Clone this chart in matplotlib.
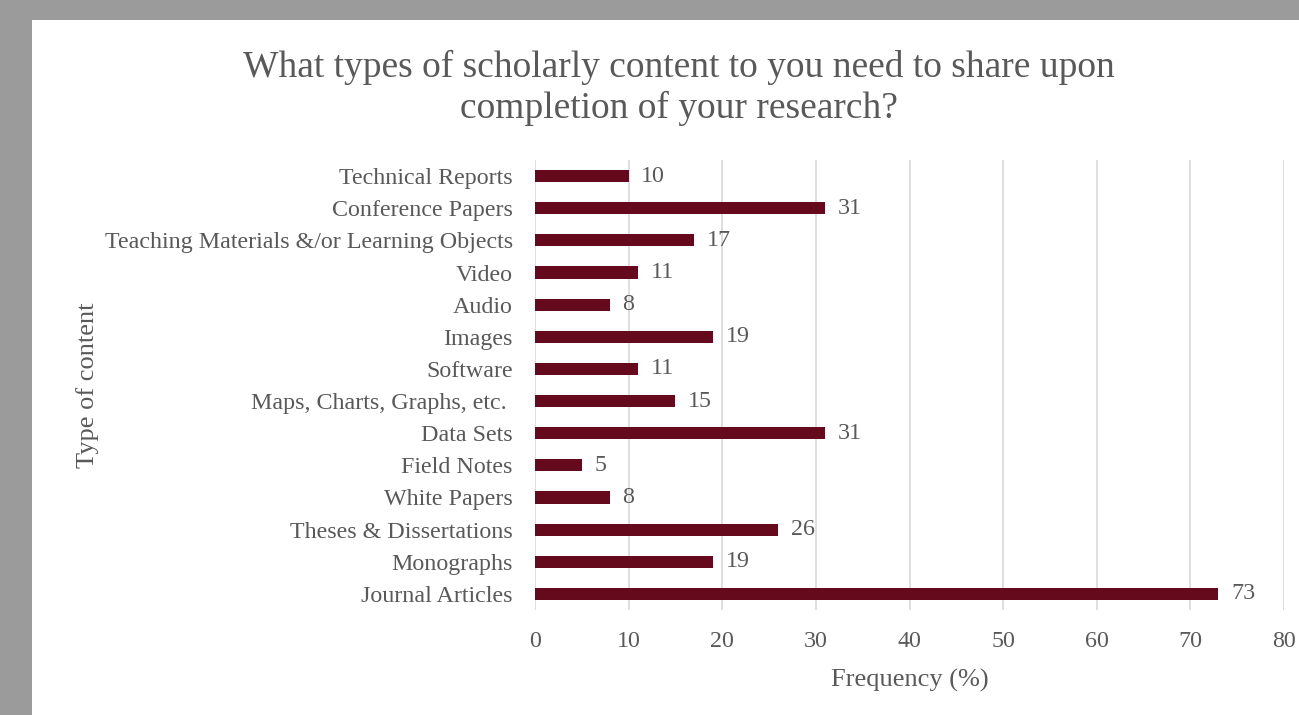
import matplotlib.pyplot as plt

categories = [
    "Journal Articles",
    "Monographs",
    "Theses & Dissertations",
    "White Papers",
    "Field Notes",
    "Data Sets",
    "Maps, Charts, Graphs, etc. ",
    "Software",
    "Images",
    "Audio",
    "Video",
    "Teaching Materials &/or Learning Objects",
    "Conference Papers",
    "Technical Reports",
]
frequency = [73, 19, 26, 8, 5, 31, 15, 11, 19, 8, 11, 17, 31, 10]
x_ticks = [0, 10, 20, 30, 40, 50, 60, 70, 80]

plt.rcParams['font.family'] = ['Liberation Serif', 'DejaVu Serif']
text_color = '#595959'
bar_color = '#650a1c'
label_size = 17.3

fig = plt.figure(figsize=(12.99, 7.15), dpi=100, facecolor='#9b9b9b')
# white chart panel behind everything
panel = plt.Rectangle((32 / 1299, 0), 1, 1 - 20 / 715,
                      transform=fig.transFigure, facecolor='white',
                      edgecolor='none', zorder=-10)
fig.add_artist(panel)

ax = fig.add_axes([535 / 1299, 105 / 715, 749 / 1299, 450 / 715])
ax.set_zorder(5)
ax.set_facecolor('none')
ypos = list(range(len(categories)))
ax.barh(ypos, frequency, height=0.38, color=bar_color, zorder=3)
for y, v in zip(ypos, frequency):
    ax.annotate(f"{v}", xy=(v, y), xytext=(9, 0), textcoords='offset points',
                va='center', ha='left', fontsize=label_size, color=text_color)

ax.set_xlim(0, 80)
ax.set_ylim(-0.5, len(categories) - 0.5)
ax.set_xticks(x_ticks)
ax.set_yticks(ypos)
ax.set_yticklabels(categories)
ax.grid(axis='x', color='#d9d9d9', linewidth=1.2, zorder=0)
for s in ax.spines.values():
    s.set_visible(False)
ax.tick_params(axis='both', length=0, labelsize=label_size, labelcolor=text_color)
ax.tick_params(axis='x', pad=15)
ax.tick_params(axis='y', pad=16)

ax.set_xlabel("Frequency (%)", fontsize=19, color=text_color, labelpad=12)
ax.set_ylabel("Type of content", fontsize=19, color=text_color, labelpad=4)

fig.text(679 / 1299, 1 - 88 / 715,
         "What types of scholarly content to you need to share upon\ncompletion of your research?",
         ha='center', va='center', fontsize=27, color=text_color,
         linespacing=1.2, zorder=6)

fig.savefig('out.png', dpi=100, facecolor=fig.get_facecolor())
